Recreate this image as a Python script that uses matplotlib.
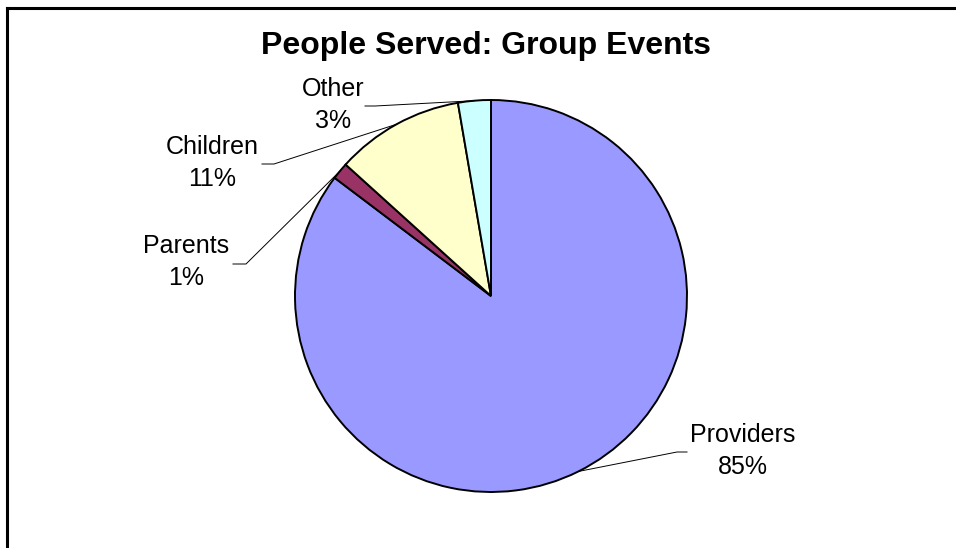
import numpy as np
import matplotlib.pyplot as plt

plt.rcParams['font.family'] = ['Liberation Sans', 'DejaVu Sans']

# slices in Excel order: clockwise from 12 o'clock
labels = ["Providers", "Parents", "Children", "Other"]
values = [85.3, 1.4, 10.6, 2.7]
colors = ["#9999FF", "#993366", "#FFFFCC", "#CCFFFF"]
title = "People Served: Group Events"

# label block centre and leader stub end, in pixels from top-left
label_pos = {
    "Providers": (743, 451),
    "Parents": (186, 262),
    "Children": (212, 163),
    "Other": (333, 105),
}
stub = {
    "Providers": (687, 452, 677),
    "Parents": (233, 264, 246),
    "Children": (262, 164, 274),
    "Other": (365, 106, 375),
}

W, H = 956, 548
fig = plt.figure(figsize=(W / 100, H / 100), dpi=100)
ax = fig.add_axes([0, 0, 1, 1])

cx, cy, r = 491, H - 296, 196
wedges, _ = ax.pie(values, colors=colors, startangle=90, counterclock=False,
                   center=(cx, cy), radius=r,
                   wedgeprops=dict(edgecolor="black", linewidth=1.4))

for w, lab, v in zip(wedges, labels, values):
    mid = np.deg2rad((w.theta1 + w.theta2) / 2)
    ex, ey = cx + r * np.cos(mid), cy + r * np.sin(mid)
    sx, sy, kx = stub[lab]
    ax.plot([ex, kx, sx], [ey, H - sy, H - sy], color="black", lw=0.7)
    tx, ty = label_pos[lab]
    ax.text(tx, H - ty, "%s\n%.0f%%" % (lab, v), ha="center", va="center",
            fontsize=18, linespacing=1.45)

ax.text(486, H - 46, title, ha="center", va="center", fontsize=23,
        fontweight="bold")

# chart frame (only top and left edges fall inside the picture)
ax.plot([7, 7], [0, H - 8], color="black", lw=2.2, solid_capstyle="projecting")
ax.plot([7, W], [H - 8, H - 8], color="black", lw=2.2, solid_capstyle="projecting")

ax.set_xlim(0, W)
ax.set_ylim(0, H)
ax.set_aspect("auto")
ax.axis("off")

fig.savefig("out.png", dpi=100)
